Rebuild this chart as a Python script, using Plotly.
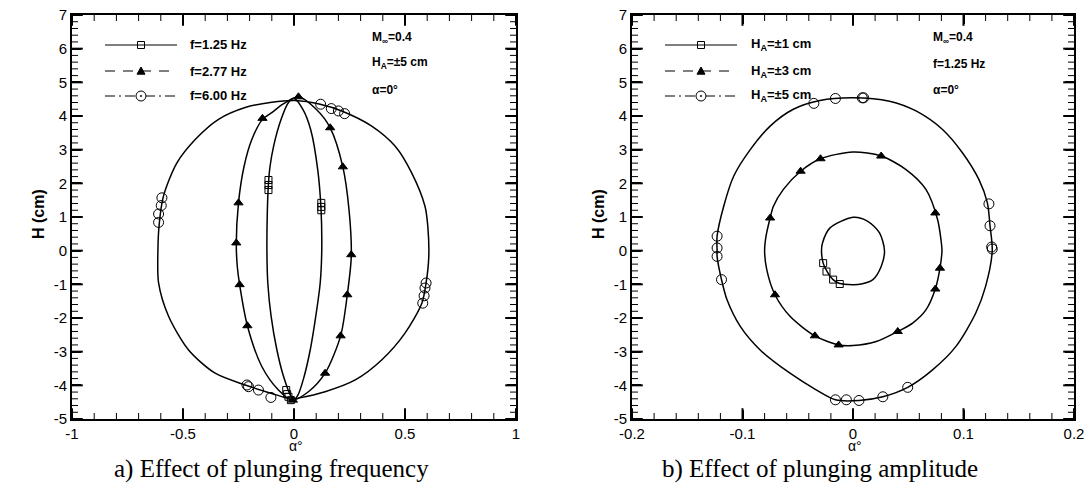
import plotly.graph_objects as go

# ---------------- data ----------------
# (a) effect of plunging frequency : alpha (deg) vs H (cm)
a_f125_x = [0.0, -0.025, -0.058, -0.092, -0.108, -0.115, -0.12, -0.122, -0.118, -0.103, -0.077, -0.047, -0.013, -0.002,
            0.017, 0.043, 0.073, 0.098, 0.118, 0.125, 0.122, 0.107, 0.075, 0.04, 0.0]
a_f125_y = [4.52, 4.4, 3.9, 3.1, 2.5, 2.0, 1.2, 0.0, -0.96, -1.95, -2.95, -3.74, -4.34, -4.43,
            -4.3, -3.8, -2.95, -1.95, -0.96, 0.0, 1.2, 2.4, 3.6, 4.2, 4.52]
a_f125_mx = [-0.115, -0.115, -0.115, 0.123, 0.123, 0.123, -0.035, -0.031, -0.025, -0.014]
a_f125_my = [2.1, 1.95, 1.8, 1.42, 1.3, 1.2, -4.14, -4.26, -4.34, -4.44]

a_f277_x = [0.02, -0.05, -0.1, -0.142, -0.19, -0.225, -0.25, -0.26, -0.255, -0.245, -0.21, -0.145, -0.07, -0.01,
            0.065, 0.14, 0.21, 0.24, 0.258, 0.248, 0.22, 0.163, 0.1, 0.02]
a_f277_y = [4.57, 4.35, 4.1, 3.9, 3.3, 2.5, 1.42, 0.2, -0.5, -1.01, -2.23, -3.44, -4.14, -4.44,
            -4.19, -3.64, -2.53, -1.31, -0.17, 1.2, 2.49, 3.65, 4.2, 4.57]
a_f277_mx = [-0.142, -0.25, -0.26, 0.02, 0.163, 0.22, 0.258, -0.245, -0.21, 0.24, 0.21, 0.14, -0.005]
a_f277_my = [3.93, 1.42, 0.23, 4.57, 3.65, 2.49, -0.12, -1.01, -2.23, -1.31, -2.53, -3.64, -4.44]

a_f600_x = [0.005, -0.1, -0.22, -0.34, -0.445, -0.528, -0.588, -0.607, -0.613, -0.61, -0.565, -0.475, -0.355, -0.22, -0.1,
            -0.01, 0.02, 0.14, 0.276, 0.396, 0.5, 0.576, 0.595, 0.607, 0.603, 0.59, 0.53, 0.456, 0.35, 0.215, 0.118, 0.005]
a_f600_y = [4.46, 4.41, 4.25, 3.9, 3.3, 2.6, 1.62, 0.8, 0.0, -0.96, -1.95, -2.95, -3.64, -3.99, -4.24,
            -4.41, -4.38, -4.19, -3.84, -3.24, -2.45, -1.56, -0.96, -0.2, 0.7, 1.32, 2.31, 3.1, 3.7, 4.15, 4.35, 4.46]
a_f600_mx = [-0.595, -0.598, -0.61, -0.61, 0.12, 0.168, 0.2, 0.228, 0.595, 0.59, 0.586, 0.58, -0.212, -0.205, -0.16, -0.104]
a_f600_my = [1.57, 1.34, 1.09, 0.84, 4.35, 4.22, 4.15, 4.07, -0.96, -1.11, -1.34, -1.56, -3.99, -4.04, -4.14, -4.36]

# (b) effect of plunging amplitude
b_h1_x = [0.0, -0.021, -0.0276, -0.0285, -0.027, -0.0234, -0.018, -0.0126, 0.0, 0.0075, 0.018, 0.0255, 0.0285, 0.024, 0.013, 0.0]
b_h1_y = [0.99, 0.67, 0.23, 0.0, -0.37, -0.62, -0.86, -0.97, -1.01, -0.99, -0.86, -0.47, 0.0, 0.53, 0.88, 0.99]
b_h1_mx = [-0.027, -0.024, -0.018, -0.012]
b_h1_my = [-0.37, -0.62, -0.86, -0.99]

b_h3_x = [0.0, -0.0294, -0.0474, -0.063, -0.072, -0.075, -0.0787, -0.08, -0.078, -0.0706, -0.057, -0.0345, -0.013, 0.0,
          0.021, 0.0405, 0.054, 0.066, 0.0745, 0.0787, 0.0805, 0.0796, 0.0766, 0.066, 0.048, 0.0255, 0.0]
b_h3_y = [2.93, 2.73, 2.36, 1.82, 1.32, 0.97, 0.43, 0.0, -0.57, -1.31, -1.95, -2.53, -2.8, -2.82,
          -2.7, -2.4, -2.15, -1.76, -1.14, -0.52, 0.0, 0.33, 0.92, 1.82, 2.41, 2.81, 2.93]
b_h3_mx = [-0.0294, -0.0474, -0.075, 0.0255, 0.0745, 0.0787, 0.0745, 0.0405, -0.0706, -0.0345, -0.013]
b_h3_my = [2.73, 2.36, 0.97, 2.81, 1.12, -0.52, -1.14, -2.4, -1.31, -2.53, -2.8]

b_h5_x = [0.0, -0.03, -0.054, -0.075, -0.093, -0.108, -0.117, -0.123, -0.123, -0.123, -0.119, -0.114, -0.102, -0.084, -0.057,
          -0.033, -0.0159, 0.0054, 0.027, 0.0495, 0.072, 0.093, 0.111, 0.12, 0.126, 0.124, 0.1216, 0.114, 0.099, 0.081,
          0.057, 0.033, 0.0]
b_h5_y = [4.54, 4.46, 4.2, 3.7, 3.0, 2.21, 1.32, 0.43, 0.0, -0.17, -0.86, -1.46, -2.25, -2.95, -3.64,
          -4.14, -4.43, -4.45, -4.34, -4.06, -3.54, -2.85, -1.86, -1.06, 0.0, 0.74, 1.42, 2.11, 2.91, 3.6,
          4.15, 4.44, 4.54]
b_h5_mx = [-0.0354, -0.0159, 0.0084, 0.0096, -0.123, -0.123, -0.123, -0.119, 0.123, 0.124, 0.1255, 0.126,
           -0.0159, -0.006, 0.0054, 0.027, 0.0495]
b_h5_my = [4.375, 4.52, 4.54, 4.54, 0.43, 0.08, -0.17, -0.86, 1.39, 0.74, 0.11, 0.05,
           -4.43, -4.43, -4.45, -4.34, -4.06]

a_names = ["f=1.25 Hz", "f=2.77 Hz", "f=6.00 Hz"]
b_names = ["H<sub>A</sub>=±1 cm", "H<sub>A</sub>=±3 cm", "H<sub>A</sub>=±5 cm"]

a_xticks = [-1, -0.5, 0, 0.5, 1]
a_xtext = ["-1", "-0.5", "0", "0.5", "1"]
b_xticks = [-0.2, -0.1, 0, 0.1, 0.2]
b_xtext = ["-0.2", "-0.1", "0", "0.1", "0.2"]
y_ticks = [-5, -4, -3, -2, -1, 0, 1, 2, 3, 4, 5, 6, 7]
y_text = ["-5", "-4", "-3", "-2", "-1", "0", "1", "2", "3", "4", "5", "6", "7"]
a_xminor_step, b_xminor_step, y_minor_step = 0.1, 0.02, 0.2

# ---------------- styling ----------------
W, H = 1091, 499
SANS = "Arial, Liberation Sans, sans-serif"
SERIF = "Times New Roman, Liberation Serif, serif"
BLACK = "#000000"

styles = [
    dict(dash="solid", symbol="square-open", size=7),
    dict(dash="10px,8px", symbol="triangle-up", size=8),
    dict(dash="10px,4px,2px,4px", symbol="circle-open", size=10),
]

a_left, a_right = 72, 516
b_left, b_right = 632, 1074
top, bottom = 15, 419


def px_x(p):
    return p / W


def px_y(p):
    return 1 - p / H


fig = go.Figure()


def steps(lo, hi, step):
    n = int(round((hi - lo) / step))
    return [lo + i * step for i in range(n + 1)]


# ---- tick marks drawn as line-shaped markers placed on the axes' scales ----
y_unit = (bottom - top) / (y_ticks[-1] - y_ticks[0])          # px per H unit


def tick_marks(xa, ya, xvals, yvals, x_unit, length, width):
    hx = (length / 2) / x_unit
    hy = (length / 2) / y_unit
    x0, x1 = xvals[0], xvals[-1]
    y0, y1 = y_ticks[0], y_ticks[-1]
    vx = [v for v in xvals] * 2
    vy = [y0 + hy] * len(xvals) + [y1 - hy] * len(xvals)
    fig.add_trace(go.Scatter(x=vx, y=vy, mode="markers", xaxis=xa, yaxis=ya, cliponaxis=False,
                             marker=dict(symbol="line-ns", size=length,
                                         line=dict(color=BLACK, width=width)),
                             showlegend=False, hoverinfo="skip"))
    hxs = [x0 + hx] * len(yvals) + [x1 - hx] * len(yvals)
    hys = [v for v in yvals] * 2
    fig.add_trace(go.Scatter(x=hxs, y=hys, mode="markers", xaxis=xa, yaxis=ya, cliponaxis=False,
                             marker=dict(symbol="line-ew", size=length,
                                         line=dict(color=BLACK, width=width)),
                             showlegend=False, hoverinfo="skip"))


a_unit = (a_right - a_left) / (a_xticks[-1] - a_xticks[0])
b_unit = (b_right - b_left) / (b_xticks[-1] - b_xticks[0])
tick_marks("x", "y", steps(a_xticks[0], a_xticks[-1], a_xminor_step),
           steps(y_ticks[0], y_ticks[-1], y_minor_step), a_unit, 5, 1)
tick_marks("x", "y", a_xticks, y_ticks, a_unit, 9, 2)
tick_marks("x2", "y2", steps(b_xticks[0], b_xticks[-1], b_xminor_step),
           steps(y_ticks[0], y_ticks[-1], y_minor_step), b_unit, 5, 1)
tick_marks("x2", "y2", b_xticks, y_ticks, b_unit, 9, 2)


def add_series(xs, ys, mxs, mys, xa, ya, st):
    fig.add_trace(go.Scatter(x=xs, y=ys, mode="lines", xaxis=xa, yaxis=ya,
                             line=dict(color=BLACK, width=1.5, shape="spline", smoothing=0.8),
                             showlegend=False, hoverinfo="skip"))
    fig.add_trace(go.Scatter(x=mxs, y=mys, mode="markers", xaxis=xa, yaxis=ya,
                             marker=dict(symbol=st["symbol"], size=st["size"], color=BLACK,
                                         line=dict(color=BLACK, width=1)),
                             showlegend=False, hoverinfo="skip"))


a_series = [(a_f125_x, a_f125_y, a_f125_mx, a_f125_my),
            (a_f277_x, a_f277_y, a_f277_mx, a_f277_my),
            (a_f600_x, a_f600_y, a_f600_mx, a_f600_my)]
b_series = [(b_h1_x, b_h1_y, b_h1_mx, b_h1_my),
            (b_h3_x, b_h3_y, b_h3_mx, b_h3_my),
            (b_h5_x, b_h5_y, b_h5_mx, b_h5_my)]

for s, st in zip(a_series, styles):
    add_series(*s, "x", "y", st)
for s, st in zip(b_series, styles):
    add_series(*s, "x2", "y2", st)


def alias(texts):
    return {"\u2212" + t[1:]: t for t in texts if t.startswith("-")}


def base_axis(rng, ticks, texts, domain, anchor):
    return dict(domain=domain, range=rng, anchor=anchor, automargin=False,
                tickmode="linear", tick0=ticks[0], dtick=ticks[1] - ticks[0],
                labelalias=alias(texts),
                ticks="inside", ticklen=9, tickwidth=2, tickcolor=BLACK,
                showline=True, linewidth=2, linecolor=BLACK, mirror="ticks",
                showgrid=False, zeroline=False,
                tickfont=dict(family=SANS, size=15, color=BLACK))


ydom = [px_y(bottom), px_y(top)]
adom = [px_x(a_left), px_x(a_right)]
bdom = [px_x(b_left), px_x(b_right)]
yr = [y_ticks[0], y_ticks[-1]]
fig.update_layout(
    template="none",
    width=W, height=H, margin=dict(l=0, r=0, t=0, b=0, pad=0),
    paper_bgcolor="white", plot_bgcolor="white", showlegend=False,
    xaxis=base_axis([a_xticks[0], a_xticks[-1]], a_xticks, a_xtext, adom, "y"),
    yaxis=base_axis(yr, y_ticks, y_text, ydom, "x"),
    xaxis2=base_axis([b_xticks[0], b_xticks[-1]], b_xticks, b_xtext, bdom, "y2"),
    yaxis2=base_axis(yr, y_ticks, y_text, ydom, "x2"),
)

ann = []
shapes = []


def note(text, x, y, size=12, family=SANS, xanchor="left", angle=0):
    ann.append(dict(text=text, x=px_x(x), y=px_y(y), xref="paper", yref="paper",
                    xanchor=xanchor, yanchor="middle", showarrow=False, textangle=angle,
                    font=dict(family=family, size=size, color=BLACK)))


# legends drawn as layout decorations (line sample, symbol, label)
def legend(names, x_line0, x_line1, x_text, rows):
    xm = (x_line0 + x_line1) / 2
    for name, st, yr_ in zip(names, styles, rows):
        shapes.append(dict(type="line", xref="paper", yref="paper",
                           x0=px_x(x_line0), x1=px_x(x_line1), y0=px_y(yr_), y1=px_y(yr_),
                           line=dict(color=BLACK, width=1, dash=st["dash"])))
        if st["symbol"] == "square-open":
            r = 3.5
            shapes.append(dict(type="rect", xref="paper", yref="paper",
                               x0=px_x(xm - r), x1=px_x(xm + r), y0=px_y(yr_ - r), y1=px_y(yr_ + r),
                               line=dict(color=BLACK, width=1), fillcolor="white"))
            shapes.append(dict(type="line", xref="paper", yref="paper",
                               x0=px_x(xm - r), x1=px_x(xm + r), y0=px_y(yr_), y1=px_y(yr_),
                               line=dict(color=BLACK, width=1)))
        elif st["symbol"] == "triangle-up":
            r = 4
            path = "M %f,%f L %f,%f L %f,%f Z" % (px_x(xm - r), px_y(yr_ + r * 0.8),
                                                   px_x(xm + r), px_y(yr_ + r * 0.8),
                                                   px_x(xm), px_y(yr_ - r))
            shapes.append(dict(type="path", xref="paper", yref="paper", path=path,
                               line=dict(color=BLACK, width=1), fillcolor=BLACK))
        else:
            r = 5
            shapes.append(dict(type="circle", xref="paper", yref="paper",
                               x0=px_x(xm - r), x1=px_x(xm + r), y0=px_y(yr_ - r), y1=px_y(yr_ + r),
                               line=dict(color=BLACK, width=1), fillcolor="white"))
            shapes.append(dict(type="circle", xref="paper", yref="paper",
                               x0=px_x(xm - 0.8), x1=px_x(xm + 0.8), y0=px_y(yr_ - 0.8), y1=px_y(yr_ + 0.8),
                               line=dict(color=BLACK, width=0.5), fillcolor=BLACK))
        note("<b>%s</b>" % name, x_text, yr_, size=13)


legend(a_names, 105, 177, 188, [45, 71, 96])
legend(b_names, 665, 737, 749, [45, 71, 96])

for x0 in (370, 931):
    note("<b>M<sub>∞</sub>=0.4</b>", x0, 38)
note("<b>H<sub>A</sub>=±5 cm</b>", 370, 63)
note("<b>f=1.25 Hz</b>", 931, 64)
for x0 in (370, 931):
    note("<b>α=0°</b>", x0, 90)

note("<b>H (cm)</b>", 38, 214, size=16, xanchor="center", angle=-90)
note("<b>H (cm)</b>", 598, 214, size=16, xanchor="center", angle=-90)
note("α°", (a_left + a_right) / 2 + 2, 446, size=14, xanchor="center")
note("α°", (b_left + b_right) / 2 + 2, 446, size=14, xanchor="center")
note("a) Effect of plunging frequency", 271, 469, size=25, family=SERIF, xanchor="center")
note("b) Effect of plunging amplitude", 820, 469, size=25, family=SERIF, xanchor="center")

fig.update_layout(annotations=ann, shapes=shapes)

fig.write_html("out.html", include_plotlyjs=True, full_html=True)
